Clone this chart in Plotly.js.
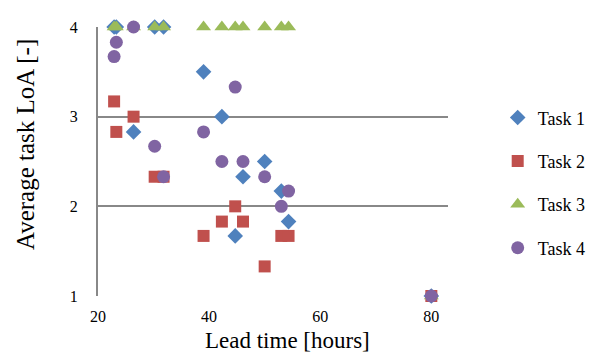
<!DOCTYPE html>
<html>
<head>
<meta charset="utf-8">
<script src="https://cdn.plot.ly/plotly-3.0.1.min.js"></script>
<style>html,body{margin:0;padding:0;background:#fff;}#chart{width:594px;height:356px;}</style>
</head>
<body>
<div id="chart"></div>
<script>
const leadTime = [22.9, 23.3, 26.4, 30.2, 31.8, 39.0, 42.3, 44.7, 46.1, 50.0, 53.0, 54.3, 80.0];
const task1 = [4, 4, 2.83, 4, 4, 3.5, 3.0, 1.67, 2.33, 2.5, 2.17, 1.83, 1];
const task2 = [3.17, 2.83, 3.0, 2.33, 2.33, 1.67, 1.83, 2.0, 1.83, 1.33, 1.67, 1.67, 1];
const task3 = [4, 4, 4, 4, 4, 4, 4, 4, 4, 4, 4, 4, 1];
const task4 = [3.67, 3.83, 4, 2.67, 2.33, 2.83, 2.5, 3.33, 2.5, 2.33, 2.0, 2.17, 1];
const seriesNames = ["Task 1", "Task 2", "Task 3", "Task 4"];
const xTicks = [20, 40, 60, 80];
const yTicks = [1, 2, 3, 4];
const xTitle = "Lead time [hours]";
const yTitle = "Average task LoA [-]";

const seriesData = [task1, task2, task3, task4];
const colors = ["#4F81BD", "#C0504D", "#9BBB59", "#8064A2"];
const symbols = ["diamond", "square", "triangle-up", "circle"];
const sizes = [12, 12, 13, 13];

const traces = seriesData.map((ys, i) => ({
  type: "scatter",
  mode: "markers",
  x: leadTime,
  y: ys,
  name: seriesNames[i],
  legendgroup: "g" + i,
  cliponaxis: false,
  marker: {symbol: symbols[i], color: colors[i], size: sizes[i], line: {width: 0}}
}));

const font = "'Liberation Serif', 'DejaVu Serif', serif";
const layout = {
  width: 594, height: 356,
  margin: {l: 98, r: 146, t: 27, b: 60, autoexpand: false},
  paper_bgcolor: "#fff", plot_bgcolor: "#fff",
  font: {family: font, color: "#000", size: 16},
  showlegend: true,
  legend: {x: 1.142, y: 0.731, xanchor: "left", yanchor: "top", font: {family: font, size: 18, color: "#000"}, tracegroupgap: 17, itemwidth: 30},
  xaxis: {
    range: [20, 83], tickvals: xTicks, ticktext: xTicks.map(String),
    showgrid: false, zeroline: false, showline: false, ticks: "",
    ticklabelstandoff: 9, tickfont: {family: font, size: 16, color: "#000"}
  },
  yaxis: {
    range: [1, 4], tickvals: yTicks, ticktext: yTicks.map(String),
    showgrid: true, gridcolor: "#888888", gridwidth: 2,
    zeroline: false, showline: true, linecolor: "#888888", linewidth: 2, ticks: "",
    ticklabelstandoff: 15, tickfont: {family: font, size: 16, color: "#000"}
  },
  annotations: [
    {text: xTitle, xref: "paper", yref: "paper", x: (287 - 98) / 350, y: -(355 - 296) / 269,
     xanchor: "center", yanchor: "bottom", showarrow: false, font: {family: font, size: 23, color: "#000"}},
    {text: yTitle, xref: "paper", yref: "paper", x: -(98 - 25) / 350, y: (296 - 145) / 269, textangle: -90,
     xanchor: "center", yanchor: "middle", showarrow: false, font: {family: font, size: 25, color: "#000"}}
  ]
};
Plotly.newPlot("chart", traces, layout, {displayModeBar: false, staticPlot: true});
</script>
</body>
</html>
